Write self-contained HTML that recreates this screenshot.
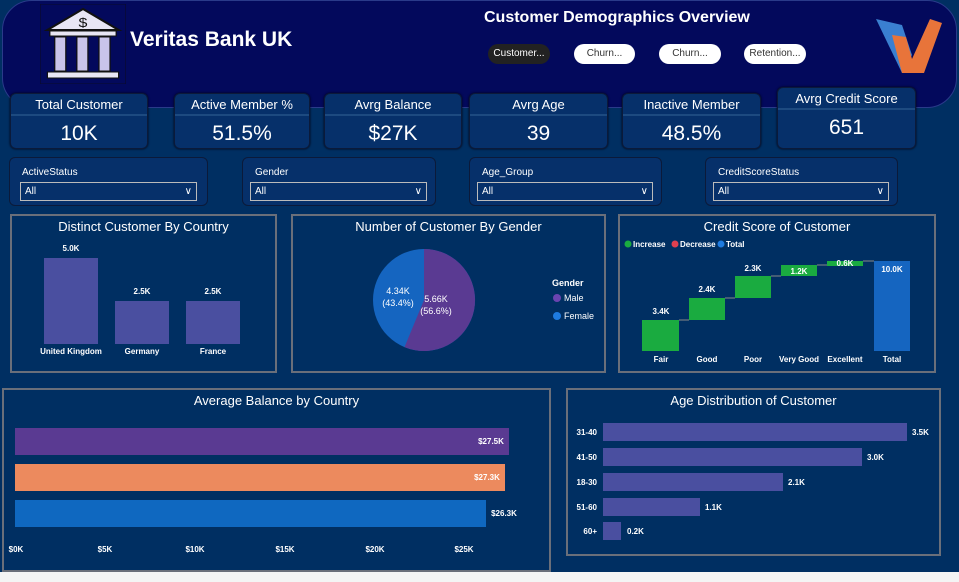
<!DOCTYPE html>
<html><head><meta charset="utf-8"><style>
*{margin:0;padding:0;box-sizing:border-box}
body{width:959px;height:582px;background:#f4f4f4;font-family:"Liberation Sans",sans-serif;position:relative;overflow:hidden}
.bg{position:absolute;left:0;top:0;width:959px;height:572px;background:#002f62}
.abs{position:absolute}
.card{position:absolute;border:1px solid #0b1a3a;border-radius:6px;background:#06306a;color:#fff;text-align:center;box-shadow:0 0 2px #001}
.card .t{font-size:13px;padding-top:3px;height:22px;border-bottom:2px solid #1d4a80}
.card .v{font-size:21px;padding-top:6px}
.sl{position:absolute;border:1px solid #0b1a3a;border-radius:6px;background:#06306a;color:#fff;font-size:10px}
.sl .box{position:absolute;left:7px;right:8px;top:24px;height:19px;border:1px solid #bbb;padding:3px 4px}
.panel{position:absolute;border:2px solid #6a6f7a;background:#002f62;color:#fff}
.ttl{text-align:center;font-size:13px;margin-top:3px}
.btn{position:absolute;top:44px;height:20px;border-radius:10px;background:#fff;color:#333;font-size:10px;text-align:center;line-height:20px}
</style></head><body>
<div class="bg"></div>
<div class="abs" style="left:2px;top:0;width:955px;height:108px;background:#03095c;border-radius:30px;border:1px solid #2a3a8a"></div>
<svg class="abs" style="left:40px;top:4px" width="86" height="80" viewBox="0 0 70 80" preserveAspectRatio="none">
<rect x="0" y="0" width="70" height="80" fill="#03095c" stroke="#0a0a2a"/>
<polygon points="35,5 6,26 64,26" fill="#e8e6f4" stroke="#111" stroke-width="2"/>
<text x="35" y="23" font-size="13" text-anchor="middle" fill="#111" font-family="Liberation Sans">$</text>
<rect x="8" y="27" width="54" height="5" fill="#e8e6f4" stroke="#111"/>
<rect x="12" y="33" width="9" height="34" fill="#c9c4ea" stroke="#111"/>
<rect x="30" y="33" width="9" height="34" fill="#c9c4ea" stroke="#111"/>
<rect x="48" y="33" width="9" height="34" fill="#c9c4ea" stroke="#111"/>
<rect x="6" y="68" width="58" height="6" fill="#e8e6f4" stroke="#111"/>
</svg>
<div class="abs" style="left:130px;top:28px;color:#fff;font-size:21px;font-weight:bold">Veritas Bank UK</div>
<div class="abs" style="left:484px;top:9px;color:#fff;font-size:16px;font-weight:bold">Customer Demographics Overview</div>
<div class="btn" style="left:488px;width:62px;background:#222;color:#fff">Customer...</div>
<div class="btn" style="left:574px;width:61px">Churn...</div>
<div class="btn" style="left:659px;width:62px">Churn...</div>
<div class="btn" style="left:744px;width:62px">Retention...</div>
<svg class="abs" style="left:872px;top:15px" width="72" height="60"><polygon points="4,4 30,10 40,40 30,58" fill="#3a7fd0"/><polygon points="30,58 20,20 34,22 40,44 58,4 70,8 52,58" fill="#e8743a"/></svg>

<div class="card" style="left:10px;top:93px;width:138px;height:56px"><div class="t">Total Customer</div><div class="v">10K</div></div>
<div class="card" style="left:174px;top:93px;width:136px;height:56px"><div class="t">Active Member %</div><div class="v">51.5%</div></div>
<div class="card" style="left:324px;top:93px;width:138px;height:56px"><div class="t">Avrg Balance</div><div class="v">$27K</div></div>
<div class="card" style="left:469px;top:93px;width:139px;height:56px"><div class="t">Avrg Age</div><div class="v">39</div></div>
<div class="card" style="left:622px;top:93px;width:139px;height:56px"><div class="t">Inactive Member</div><div class="v">48.5%</div></div>
<div class="card" style="left:777px;top:87px;width:139px;height:62px"><div class="t">Avrg Credit Score</div><div class="v">651</div></div>

<div class="sl" style="left:9px;top:157px;width:199px;height:49px"><div style="padding:9px 0 0 12px">ActiveStatus</div><div class="box" style="left:10px;right:10px">All<span style="float:right">∨</span></div></div>
<div class="sl" style="left:242px;top:157px;width:194px;height:49px"><div style="padding:9px 0 0 12px">Gender</div><div class="box">All<span style="float:right">∨</span></div></div>
<div class="sl" style="left:469px;top:157px;width:193px;height:49px"><div style="padding:9px 0 0 12px">Age_Group</div><div class="box">All<span style="float:right">∨</span></div></div>
<div class="sl" style="left:705px;top:157px;width:193px;height:49px"><div style="padding:9px 0 0 12px">CreditScoreStatus</div><div class="box">All<span style="float:right">∨</span></div></div>

<div class="panel" style="left:10px;top:214px;width:267px;height:159px"><div class="ttl">Distinct Customer By Country</div></div>
<svg class="abs" style="left:10px;top:214px" width="267" height="159" font-family="Liberation Sans" font-size="8" fill="#fff" text-anchor="middle" font-weight="bold">
<rect x="34" y="44" width="54" height="86" fill="#4a4fa0"/><rect x="105" y="87" width="54" height="43" fill="#4a4fa0"/><rect x="176" y="87" width="54" height="43" fill="#4a4fa0"/>
<text x="61" y="37">5.0K</text><text x="132" y="80">2.5K</text><text x="203" y="80">2.5K</text>
<text x="61" y="140">United Kingdom</text><text x="132" y="140">Germany</text><text x="203" y="140">France</text></svg>

<div class="panel" style="left:291px;top:214px;width:315px;height:159px"><div class="ttl">Number of Customer By Gender</div></div>
<svg class="abs" style="left:291px;top:214px" width="315" height="159" font-family="Liberation Sans" font-size="9" fill="#fff">
<circle cx="133" cy="86" r="51" fill="#1565c0"/>
<path d="M133 86 L133 35 A51 51 0 1 1 113.5 133.1 Z" fill="#5a3a92"/>
<text x="145" y="88" text-anchor="middle">5.66K</text><text x="145" y="100" text-anchor="middle">(56.6%)</text>
<text x="107" y="80" text-anchor="middle">4.34K</text><text x="107" y="92" text-anchor="middle">(43.4%)</text>
<text x="261" y="72" font-weight="bold">Gender</text>
<circle cx="266" cy="84" r="4" fill="#6a44b0"/><text x="273" y="87">Male</text>
<circle cx="266" cy="102" r="4" fill="#1e7be0"/><text x="273" y="105">Female</text></svg>

<div class="panel" style="left:618px;top:214px;width:318px;height:159px"><div class="ttl">Credit Score of Customer</div></div>
<svg class="abs" style="left:618px;top:214px" width="318" height="159" font-family="Liberation Sans" font-size="8" fill="#fff" text-anchor="middle" font-weight="bold">
<circle cx="10" cy="30" r="3.5" fill="#1aab40"/><text x="15" y="33" text-anchor="start">Increase</text>
<circle cx="57" cy="30" r="3.5" fill="#e04050"/><text x="62" y="33" text-anchor="start">Decrease</text>
<circle cx="103" cy="30" r="3.5" fill="#1e7be0"/><text x="108" y="33" text-anchor="start">Total</text>
<g stroke="#888" stroke-width="1"><line x1="61" y1="106" x2="71" y2="106"/><line x1="107" y1="84" x2="117" y2="84"/><line x1="153" y1="62" x2="163" y2="62"/><line x1="199" y1="51" x2="209" y2="51"/><line x1="245" y1="47" x2="256" y2="47"/></g>
<g fill="#1aab40"><rect x="24" y="106" width="37" height="31"/><rect x="71" y="84" width="36" height="22"/><rect x="117" y="62" width="36" height="22"/><rect x="163" y="51" width="36" height="11"/><rect x="209" y="47" width="36" height="5"/></g>
<rect x="256" y="47" width="36" height="90" fill="#1565c0"/>
<text x="43" y="100">3.4K</text><text x="89" y="78">2.4K</text><text x="135" y="57">2.3K</text><text x="181" y="60">1.2K</text><text x="227" y="52">0.6K</text><text x="274" y="58">10.0K</text>
<text x="43" y="148">Fair</text><text x="89" y="148">Good</text><text x="135" y="148">Poor</text><text x="181" y="148">Very Good</text><text x="227" y="148">Excellent</text><text x="274" y="148">Total</text></svg>

<div class="panel" style="left:2px;top:388px;width:549px;height:184px"><div class="ttl">Average Balance by Country</div></div>
<svg class="abs" style="left:0;top:388px" width="552" height="184" font-family="Liberation Sans" font-size="8" fill="#fff" text-anchor="middle" font-weight="bold">
<rect x="15" y="40" width="494" height="27" fill="#5a3a92"/><rect x="15" y="76" width="490" height="27" fill="#ec8a5e"/><rect x="15" y="112" width="471" height="27" fill="#0f68c0"/>
<text x="491" y="56">$27.5K</text><text x="487" y="92">$27.3K</text><text x="504" y="128">$26.3K</text>
<text x="16" y="164">$0K</text><text x="105" y="164">$5K</text><text x="195" y="164">$10K</text><text x="285" y="164">$15K</text><text x="375" y="164">$20K</text><text x="464" y="164">$25K</text></svg>

<div class="panel" style="left:566px;top:388px;width:375px;height:168px"><div class="ttl">Age Distribution of Customer</div></div>
<svg class="abs" style="left:566px;top:388px" width="375" height="168" font-family="Liberation Sans" font-size="8" fill="#fff" font-weight="bold">
<g fill="#4a4fa0"><rect x="37" y="35" width="304" height="18"/><rect x="37" y="60" width="259" height="18"/><rect x="37" y="85" width="180" height="18"/><rect x="37" y="110" width="97" height="18"/><rect x="37" y="134" width="18" height="18"/></g>
<g text-anchor="end"><text x="31" y="47">31-40</text><text x="31" y="72">41-50</text><text x="31" y="97">18-30</text><text x="31" y="122">51-60</text><text x="31" y="146">60+</text></g>
<text x="346" y="47">3.5K</text><text x="301" y="72">3.0K</text><text x="222" y="97">2.1K</text><text x="139" y="122">1.1K</text><text x="61" y="146">0.2K</text></svg>
</body></html>
